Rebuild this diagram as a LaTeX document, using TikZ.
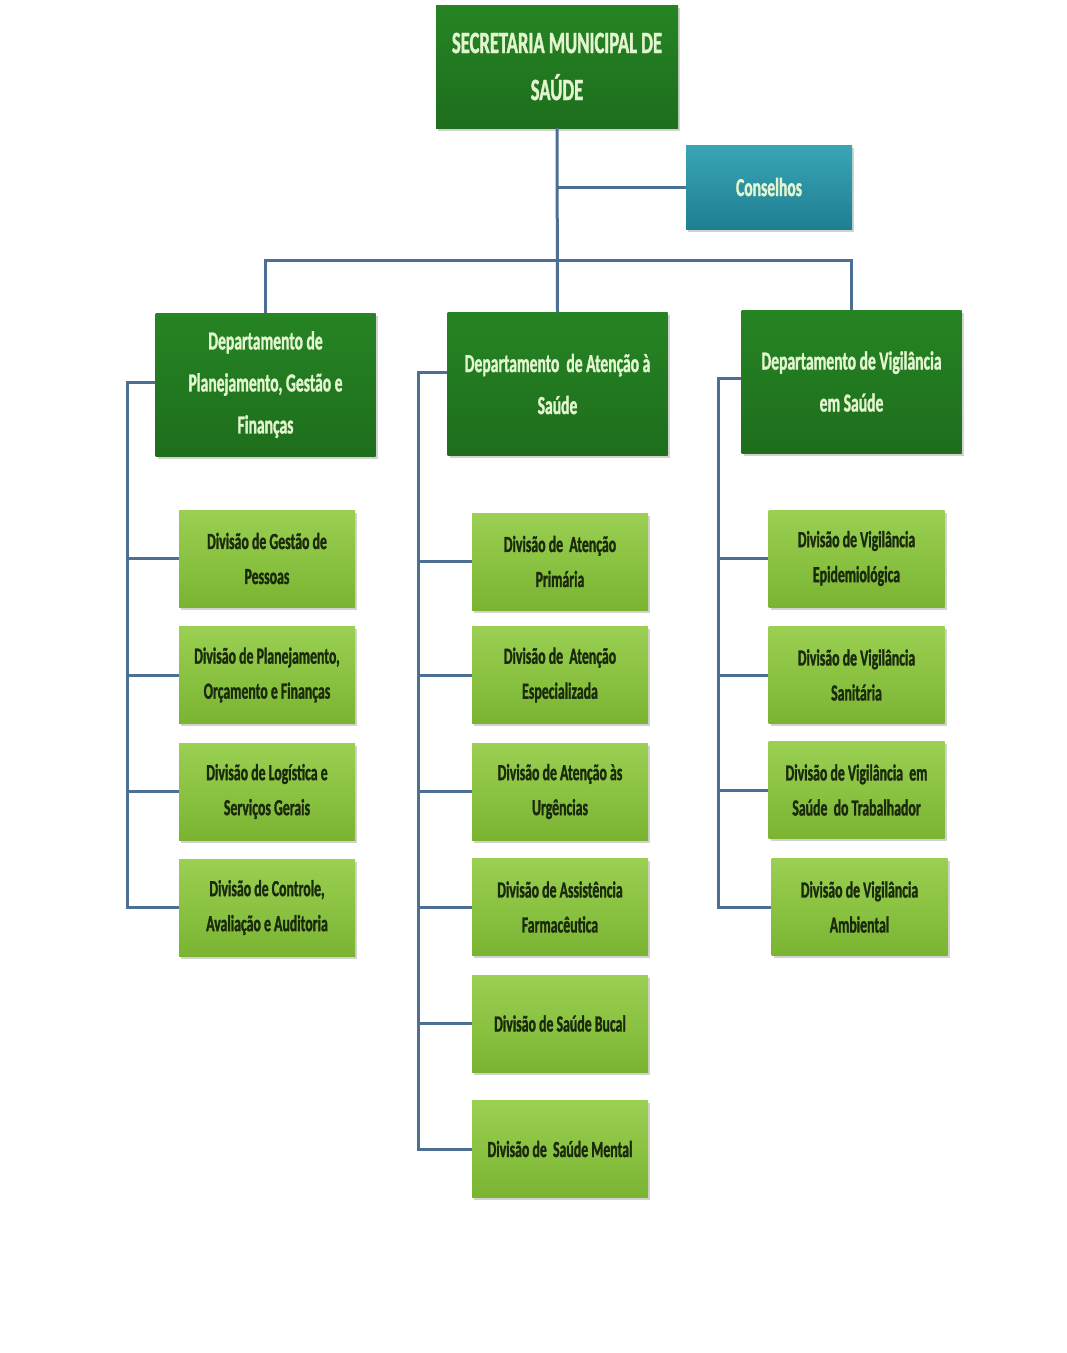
\documentclass[tikz,border=0pt]{standalone}
\usepackage{fontspec}
\newfontfamily\boxfont{Carlito Bold}[FakeStretch=0.6,FakeBold=1.2]
\usetikzlibrary{shadows}
\definecolor{darkg}{HTML}{1E6E1C}
\definecolor{darkgT}{HTML}{268424}
\definecolor{lightgT}{HTML}{9BD052}
\definecolor{lightgB}{HTML}{7AB431}
\definecolor{tealT}{HTML}{3AA5B5}
\definecolor{tealB}{HTML}{1E7F91}
\definecolor{lineblue}{HTML}{4D6F94}
\definecolor{lighttext}{HTML}{E2F5CF}
\definecolor{darktext}{HTML}{1A2A0C}
\tikzset{
  boxbase/.style={rectangle, inner sep=2pt, align=center,
    drop shadow={shadow xshift=2pt, shadow yshift=-2.5pt, opacity=0.35}},
  topbox/.style={boxbase, top color=darkgT, bottom color=darkg, text=lighttext,
    minimum width=242pt, minimum height=123pt,
    font={\boxfont\fontsize{31}{47}\selectfont}},
  deptbox/.style={boxbase, top color=darkgT, bottom color=darkg, text=lighttext,
    minimum width=220pt, minimum height=143pt,
    font={\boxfont\fontsize{26}{42}\selectfont}},
  consbox/.style={boxbase, top color=tealT, bottom color=tealB, text=lighttext,
    minimum width=166pt, minimum height=84pt,
    font={\boxfont\fontsize{26}{40}\selectfont}},
  divbox/.style={boxbase, top color=lightgT, bottom color=lightgB, text=darktext,
    minimum width=176pt, minimum height=97pt,
    font={\boxfont\fontsize{23}{35}\selectfont}},
  conn/.style={draw=lineblue, line width=3pt}
}
\begin{document}
\begin{tikzpicture}[x=1pt,y=-1pt]
\useasboundingbox[fill=white] (0,0) rectangle (1067,1353);

% top and conselhos
\node[topbox] (top) at (557,66.5) {SECRETARIA MUNICIPAL DE\\SAÚDE};
\node[consbox] (cons) at (769,187) {Conselhos};

% departments
\node[deptbox] (d1) at (265.5,384.5) {Departamento de\\Planejamento, Gestão e\\Finanças};
\node[deptbox] (d2) at (557.5,384) {Departamento\ \ de Atenção à\\Saúde};
\node[deptbox] (d3) at (851.5,381.5) {Departamento de Vigilância\\em Saúde};

% divisions column 1
\node[divbox] (a1) at (267,558.5) {Divisão de Gestão de\\Pessoas};
\node[divbox] (a2) at (267,675) {Divisão de Planejamento,\\Orçamento e Finanças};
\node[divbox] (a3) at (267,791.5) {Divisão de Logística e\\Serviços Gerais};
\node[divbox] (a4) at (267,907.5) {Divisão de Controle,\\Avaliação e Auditoria};

% divisions column 2
\node[divbox] (b1) at (560,561.5) {Divisão de\ \ Atenção\\Primária};
\node[divbox] (b2) at (560,675) {Divisão de\ \ Atenção\\Especializada};
\node[divbox] (b3) at (560,791.5) {Divisão de Atenção às\\Urgências};
\node[divbox] (b4) at (560,907) {Divisão de Assistência\\Farmacêutica};
\node[divbox] (b5) at (560,1023.5) {Divisão de Saúde Bucal};
\node[divbox] (b6) at (560,1149) {Divisão de\ \ Saúde Mental};

% divisions column 3
\node[divbox] (c1) at (856.5,558.5) {Divisão de Vigilância\\Epidemiológica};
\node[divbox] (c2) at (856.5,675) {Divisão de Vigilância\\Sanitária};
\node[divbox] (c3) at (856.5,790) {Divisão de Vigilância\ \ em\\Saúde\ \ do Trabalhador};
\node[divbox] (c4) at (859.5,907) {Divisão de Vigilância\\Ambiental};

% coordinates for connectors
\coordinate (bar) at (558,260);
\coordinate (v1) at (127,382);
\coordinate (v2) at (418,372);
\coordinate (v3) at (718,378);

\draw[conn] (top.south) -- (d2.north);
\draw[conn] (top.south |- cons.west) -- (cons.west);
\draw[conn] (d1.north) -- (d1.north |- bar) -| (d3.north);

\draw[conn] (d1.west |- v1) -- (v1) |- (a4.west);
\foreach \n in {a1,a2,a3} \draw[conn] (v1 |- \n.west) -- (\n.west);

\draw[conn] (d2.west |- v2) -- (v2) |- (b6.west);
\foreach \n in {b1,b2,b3,b4,b5} \draw[conn] (v2 |- \n.west) -- (\n.west);

\draw[conn] (d3.west |- v3) -- (v3) |- (c4.west);
\foreach \n in {c1,c2,c3} \draw[conn] (v3 |- \n.west) -- (\n.west);
\end{tikzpicture}
\end{document}
